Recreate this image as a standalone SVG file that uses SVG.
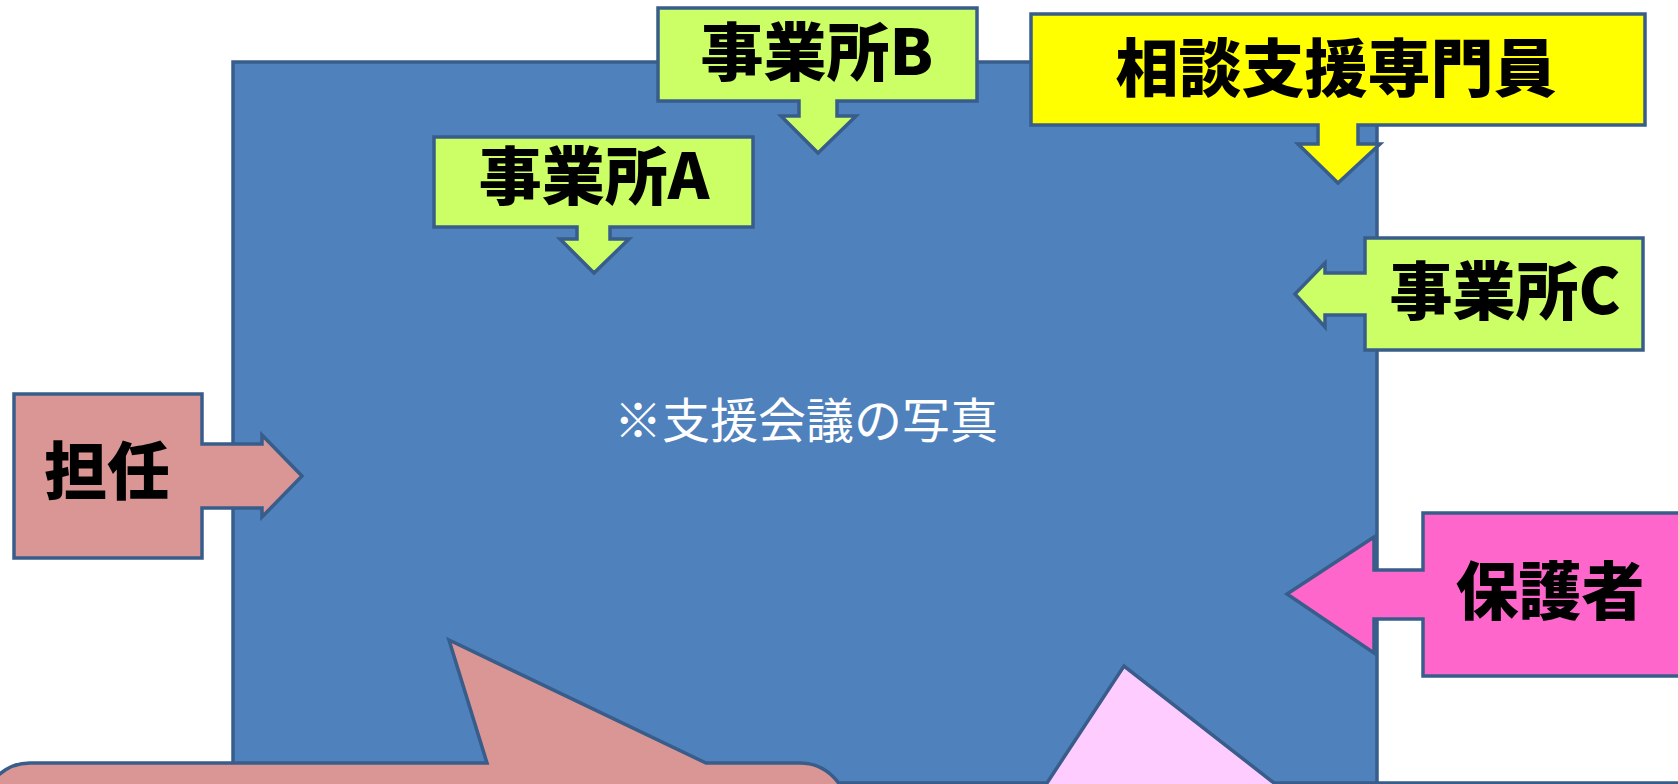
<svg xmlns="http://www.w3.org/2000/svg" width="1678" height="784" viewBox="0 0 1678 784">
<style>
.s{stroke:#385D8A;stroke-width:3.5;stroke-linejoin:miter}
.lbl{font-family:"Noto Sans CJK JP","Noto Sans",sans-serif;font-weight:900;font-size:63px;fill:#000;text-anchor:middle}
.green{fill:#CCFF66}
</style>
<g id="photo">
<rect class="s" x="233" y="62" width="1144" height="800" fill="#4F81BD"/>
<text x="806" y="438" font-family="'Noto Sans CJK JP','Noto Sans',sans-serif" font-size="48" fill="#FFFFFF" text-anchor="middle">※支援会議の写真</text>
</g>
<g id="callout2">
<path class="s" fill="#FFCCFF" d="M700,783 L1047,783 L1124,666 L1274,783 L1720,783 L1720,860 L700,860 Z"/>
</g>
<g id="callout1">
<path class="s" fill="#D99694" d="M30,763 L487,763 L449,640 L706,763 L800,763 A47,47 0 0 1 847,810 L847,860 L-17,860 L-17,810 A47,47 0 0 1 30,763 Z"/>
</g>
<g id="jigyoushoA">
<polygon class="s green" points="434,137 753,137 753,227 610,227 610,239 629,239 594,273 560,239 577,239 577,227 434,227"/>
<text class="lbl" x="594" y="199">事業所A</text>
</g>
<g id="jigyoushoB">
<polygon class="s green" points="658,8 977,8 977,101 837,101 837,116 856,116 818,153 781,116 799,116 799,101 658,101"/>
<text class="lbl" x="817" y="75">事業所B</text>
</g>
<g id="soudan">
<polygon class="s" fill="#FFFF00" points="1031,14 1645,14 1645,125 1358,125 1358,144 1380,144 1338,183 1298,144 1318,144 1318,125 1031,125"/>
<text class="lbl" x="1336" y="91">相談支援専門員</text>
</g>
<g id="jigyoushoC">
<polygon class="s green" points="1365,238 1643,238 1643,350 1365,350 1365,315 1325,315 1325,327 1295,294 1325,263 1325,273 1365,273"/>
<text class="lbl" x="1505" y="314" font-size="62">事業所C</text>
</g>
<g id="tannin">
<polygon class="s" fill="#D99694" points="14,394 202,394 202,444 262,444 262,435 302,476 262,517 262,508 202,508 202,558 14,558"/>
<text class="lbl" x="107" y="494" font-size="62">担任</text>
</g>
<g id="hogosha">
<polygon class="s" fill="#FF66CC" points="1423,513 1684,513 1684,676 1423,676 1423,619 1374,619 1374,653 1287,594 1374,537 1374,570 1423,570"/>
<text class="lbl" x="1550" y="614">保護者</text>
</g>
<g id="connectors"></g>
</svg>
